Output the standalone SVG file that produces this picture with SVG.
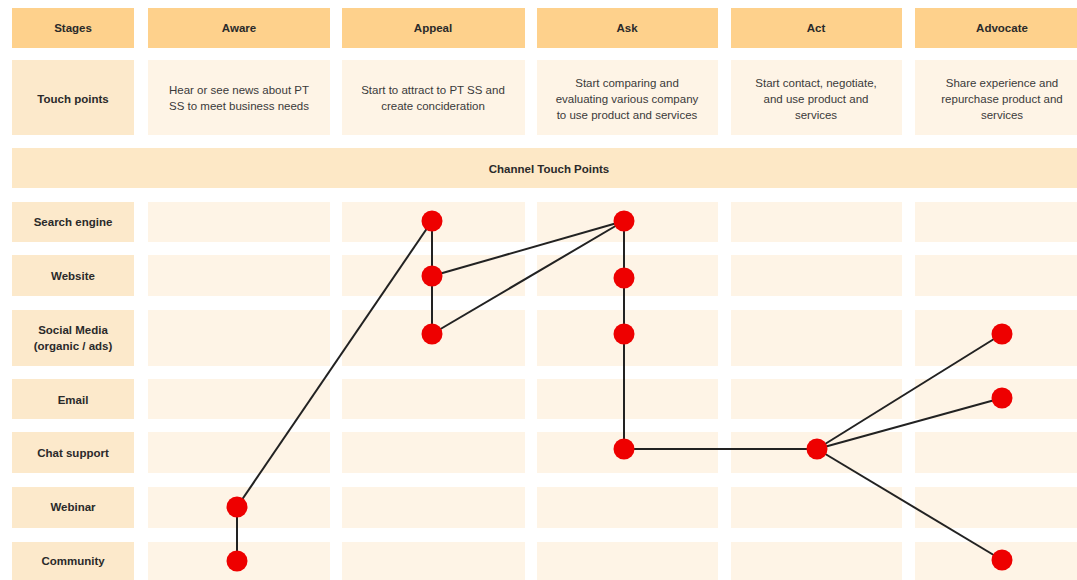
<svg xmlns="http://www.w3.org/2000/svg" width="1077" height="580" viewBox="0 0 1077 580">
<style>
.hd{fill:#FED18C}
.lb{fill:#FCE9CB}
.cl{fill:#FEF4E6}
.ch{fill:#FDE8C6}
.t{font-family:"Liberation Sans",Arial,sans-serif;font-size:11.5px;font-weight:bold;fill:#2a2a2a;text-anchor:middle}
.d{font-family:"Liberation Sans",Arial,sans-serif;font-size:11.5px;fill:#3a3a3a;text-anchor:middle}
.e{stroke:#222;stroke-width:2;fill:none}
.n{fill:#EE0000}
</style>
<rect width="1077" height="580" fill="#ffffff"/>
<g id="header">
<rect class="hd" x="12" y="8" width="122" height="40"/>
<rect class="hd" x="148" y="8" width="182" height="40"/>
<rect class="hd" x="342" y="8" width="183" height="40"/>
<rect class="hd" x="537" y="8" width="181" height="40"/>
<rect class="hd" x="731" y="8" width="171" height="40"/>
<rect class="hd" x="915" y="8" width="174" height="40"/>
<text class="t" x="73" y="32">Stages</text>
<text class="t" x="239" y="32">Aware</text>
<text class="t" x="433" y="32">Appeal</text>
<text class="t" x="627" y="32">Ask</text>
<text class="t" x="816" y="32">Act</text>
<text class="t" x="1002" y="32">Advocate</text>
</g>
<g id="touchpoints">
<rect class="lb" x="12" y="60" width="122" height="75"/>
<rect class="cl" x="148" y="60" width="182" height="75"/>
<rect class="cl" x="342" y="60" width="183" height="75"/>
<rect class="cl" x="537" y="60" width="181" height="75"/>
<rect class="cl" x="731" y="60" width="171" height="75"/>
<rect class="cl" x="915" y="60" width="174" height="75"/>
<text class="t" x="73" y="103">Touch points</text>
<text class="d" x="239" y="94">Hear or see news about PT</text>
<text class="d" x="239" y="110">SS to meet business needs</text>
<text class="d" x="433" y="94">Start to attract to PT SS and</text>
<text class="d" x="433" y="110">create concideration</text>
<text class="d" x="627" y="87">Start comparing and</text>
<text class="d" x="627" y="103">evaluating various company</text>
<text class="d" x="627" y="119">to use product and services</text>
<text class="d" x="816" y="87">Start contact, negotiate,</text>
<text class="d" x="816" y="103">and use product and</text>
<text class="d" x="816" y="119">services</text>
<text class="d" x="1002" y="87">Share experience and</text>
<text class="d" x="1002" y="103">repurchase product and</text>
<text class="d" x="1002" y="119">services</text>
</g>
<g id="channel">
<rect class="ch" x="12" y="148" width="1077" height="40"/>
<text class="t" x="549" y="173">Channel Touch Points</text>
</g>
<g id="grid">
<g id="row-search">
<rect class="lb" x="12" y="202" width="122" height="40"/>
<rect class="cl" x="148" y="202" width="182" height="40"/>
<rect class="cl" x="342" y="202" width="183" height="40"/>
<rect class="cl" x="537" y="202" width="181" height="40"/>
<rect class="cl" x="731" y="202" width="171" height="40"/>
<rect class="cl" x="915" y="202" width="174" height="40"/>
<text class="t" x="73" y="226">Search engine</text>
</g>
<g id="row-website">
<rect class="lb" x="12" y="255" width="122" height="41"/>
<rect class="cl" x="148" y="255" width="182" height="41"/>
<rect class="cl" x="342" y="255" width="183" height="41"/>
<rect class="cl" x="537" y="255" width="181" height="41"/>
<rect class="cl" x="731" y="255" width="171" height="41"/>
<rect class="cl" x="915" y="255" width="174" height="41"/>
<text class="t" x="73" y="280">Website</text>
</g>
<g id="row-social">
<rect class="lb" x="12" y="310" width="122" height="56"/>
<rect class="cl" x="148" y="310" width="182" height="56"/>
<rect class="cl" x="342" y="310" width="183" height="56"/>
<rect class="cl" x="537" y="310" width="181" height="56"/>
<rect class="cl" x="731" y="310" width="171" height="56"/>
<rect class="cl" x="915" y="310" width="174" height="56"/>
<text class="t" x="73" y="334">Social Media</text>
<text class="t" x="73" y="350">(organic / ads)</text>
</g>
<g id="row-email">
<rect class="lb" x="12" y="379" width="122" height="40"/>
<rect class="cl" x="148" y="379" width="182" height="40"/>
<rect class="cl" x="342" y="379" width="183" height="40"/>
<rect class="cl" x="537" y="379" width="181" height="40"/>
<rect class="cl" x="731" y="379" width="171" height="40"/>
<rect class="cl" x="915" y="379" width="174" height="40"/>
<text class="t" x="73" y="404">Email</text>
</g>
<g id="row-chat">
<rect class="lb" x="12" y="432" width="122" height="41"/>
<rect class="cl" x="148" y="432" width="182" height="41"/>
<rect class="cl" x="342" y="432" width="183" height="41"/>
<rect class="cl" x="537" y="432" width="181" height="41"/>
<rect class="cl" x="731" y="432" width="171" height="41"/>
<rect class="cl" x="915" y="432" width="174" height="41"/>
<text class="t" x="73" y="457">Chat support</text>
</g>
<g id="row-webinar">
<rect class="lb" x="12" y="487" width="122" height="41"/>
<rect class="cl" x="148" y="487" width="182" height="41"/>
<rect class="cl" x="342" y="487" width="183" height="41"/>
<rect class="cl" x="537" y="487" width="181" height="41"/>
<rect class="cl" x="731" y="487" width="171" height="41"/>
<rect class="cl" x="915" y="487" width="174" height="41"/>
<text class="t" x="73" y="511">Webinar</text>
</g>
<g id="row-community">
<rect class="lb" x="12" y="542" width="122" height="45"/>
<rect class="cl" x="148" y="542" width="182" height="45"/>
<rect class="cl" x="342" y="542" width="183" height="45"/>
<rect class="cl" x="537" y="542" width="181" height="45"/>
<rect class="cl" x="731" y="542" width="171" height="45"/>
<rect class="cl" x="915" y="542" width="174" height="45"/>
<text class="t" x="73" y="565">Community</text>
</g>
</g>
<g id="connectors" class="e">
<line x1="237" y1="507" x2="237" y2="561"/>
<line x1="237" y1="507" x2="432" y2="221"/>
<line x1="432" y1="221" x2="432" y2="334"/>
<line x1="432" y1="276" x2="624" y2="221"/>
<line x1="432" y1="334" x2="624" y2="221"/>
<line x1="624" y1="221" x2="624" y2="449"/>
<line x1="624" y1="449" x2="817" y2="449"/>
<line x1="817" y1="449" x2="1002" y2="334"/>
<line x1="817" y1="449" x2="1002" y2="398"/>
<line x1="817" y1="449" x2="1002" y2="560"/>
</g>
<g id="nodes">
<circle id="aware-webinar" class="n" cx="237" cy="507" r="10.5"/>
<circle id="aware-community" class="n" cx="237" cy="561" r="10.5"/>
<circle id="appeal-search" class="n" cx="432" cy="221" r="10.5"/>
<circle id="appeal-website" class="n" cx="432" cy="276" r="10.5"/>
<circle id="appeal-social" class="n" cx="432" cy="334" r="10.5"/>
<circle id="ask-search" class="n" cx="624" cy="221" r="10.5"/>
<circle id="ask-website" class="n" cx="624" cy="278" r="10.5"/>
<circle id="ask-social" class="n" cx="624" cy="334" r="10.5"/>
<circle id="ask-chat" class="n" cx="624" cy="449" r="10.5"/>
<circle id="act-chat" class="n" cx="817" cy="449" r="10.5"/>
<circle id="advocate-social" class="n" cx="1002" cy="334" r="10.5"/>
<circle id="advocate-email" class="n" cx="1002" cy="398" r="10.5"/>
<circle id="advocate-community" class="n" cx="1002" cy="560" r="10.5"/>
</g>
</svg>
